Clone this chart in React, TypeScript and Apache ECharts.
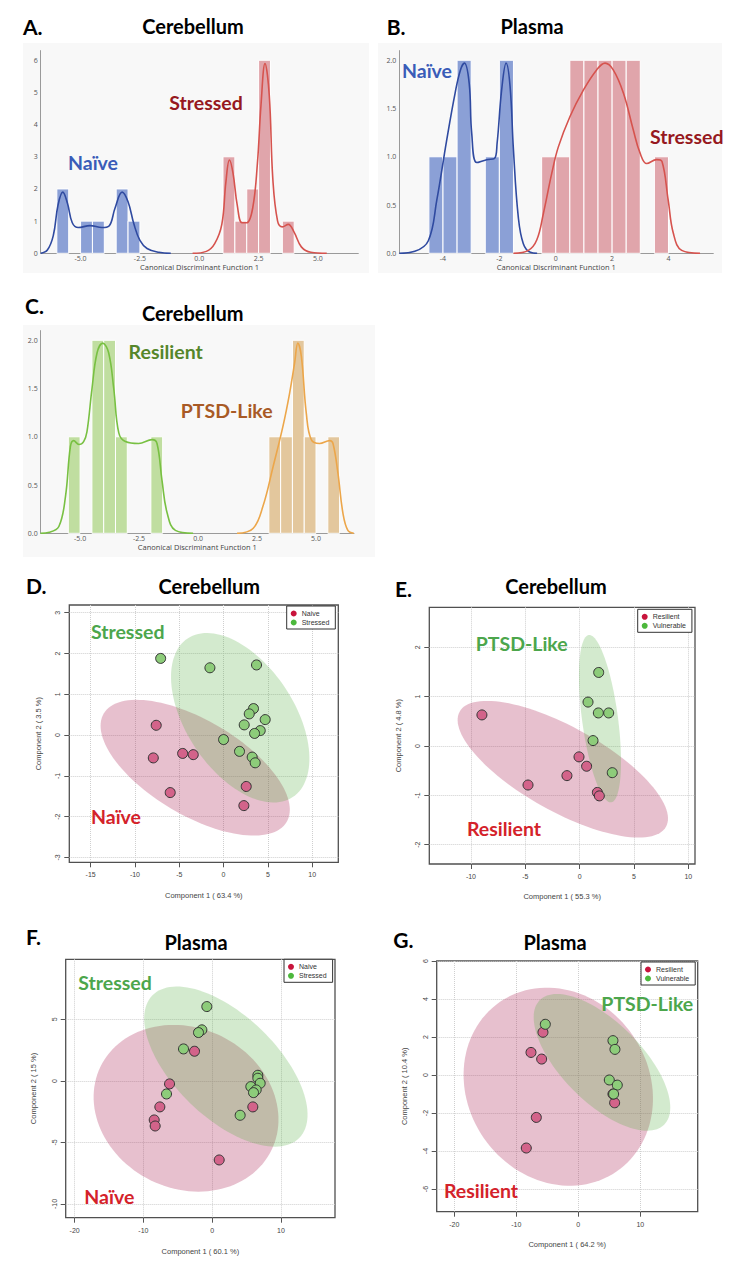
import React, { useEffect, useRef } from "react";
import * as echarts from "echarts";

// ---------- Panel A (Cerebellum, Naive vs Stressed, LDA histogram) ----------
const aNaiveBins = [[-6.0, -5.5, 2], [-5.0, -4.5, 1], [-4.5, -4.0, 1], [-3.5, -3.0, 2], [-3.0, -2.5, 1]];
const aStressedBins = [[1.0, 1.5, 3], [1.5, 2.0, 1], [2.0, 2.5, 2], [2.5, 3.0, 6], [3.5, 4.0, 1]];
const aNaiveKde = [[-6.68, 0], [-6.4, 0.1], [-6.15, 0.55], [-5.95, 1.5], [-5.75, 1.9], [-5.55, 1.55], [-5.35, 0.95], [-5.1, 0.8], [-4.6, 0.86], [-4.1, 0.8], [-3.8, 0.85], [-3.55, 1.4], [-3.25, 1.9], [-3.0, 1.6], [-2.75, 0.9], [-2.5, 0.4], [-2.2, 0.15], [-1.7, 0.03], [-1.2, 0]];
const aStressedKde = [[-0.28, 0], [0.3, 0.06], [0.65, 0.3], [0.95, 0.9], [1.12, 2.2], [1.27, 2.9], [1.42, 2.5], [1.6, 1.5], [1.8, 0.95], [2.0, 0.95], [2.25, 1.4], [2.45, 2.8], [2.6, 4.6], [2.77, 5.9], [2.95, 4.9], [3.1, 2.3], [3.3, 1.0], [3.5, 0.82], [3.75, 0.9], [4.0, 0.65], [4.3, 0.2], [4.7, 0.03], [5.37, 0]];
const aXTicks = [-5, -2.5, 0, 2.5, 5];
const aYTicks = [0, 1, 2, 3, 4, 5, 6];

// ---------- Panel B (Plasma) ----------
const bNaiveBins = [[-4.5, -4.0, 1], [-4.0, -3.5, 1], [-3.5, -3.0, 2], [-2.5, -2.0, 1], [-2.0, -1.5, 2]];
const bStressedBins = [[-0.5, 0, 1], [0, 0.5, 1], [0.5, 1.0, 2], [1.0, 1.5, 2], [1.5, 2.0, 2], [2.0, 2.5, 2], [2.5, 3.0, 2], [3.5, 4.0, 1]];
const bNaiveKde = [[-5.55, 0], [-5.0, 0.02], [-4.52, 0.13], [-4.22, 0.55], [-3.87, 1.17], [-3.57, 1.66], [-3.38, 1.9], [-3.24, 1.97], [-3.07, 1.76], [-2.98, 1.24], [-2.8, 0.94], [-2.45, 0.97], [-2.18, 0.98], [-2.08, 1.14], [-1.92, 1.69], [-1.76, 1.97], [-1.62, 1.73], [-1.5, 1.07], [-1.33, 0.38], [-1.15, 0.1], [-0.9, 0.01], [-0.66, 0]];
const bStressedKde = [[-1.5, 0], [-0.97, 0.03], [-0.67, 0.14], [-0.44, 0.41], [-0.14, 0.83], [0.09, 1.1], [0.51, 1.42], [0.98, 1.69], [1.45, 1.9], [1.75, 1.97], [2.04, 1.9], [2.4, 1.66], [2.75, 1.28], [2.99, 1.04], [3.23, 0.93], [3.58, 0.97], [3.77, 0.95], [3.99, 0.55], [4.17, 0.21], [4.47, 0.03], [5.12, 0]];
const bXTicks = [-4, -2, 0, 2, 4];
const bcYTicks = [0, 0.5, 1.0, 1.5, 2.0];

// ---------- Panel C (Cerebellum, Resilient vs PTSD-Like) ----------
const cResilientBins = [[-5.5, -5.0, 1], [-4.5, -4.0, 2], [-4.0, -3.5, 2], [-3.5, -3.0, 1], [-2.0, -1.5, 1]];
const cPtsdBins = [[3.0, 3.5, 1], [3.5, 4.0, 1], [4.0, 4.5, 2], [4.5, 5.0, 1], [5.5, 6.0, 1]];
const cResilientKde = [[-6.68, 0], [-6.3, 0.01], [-5.9, 0.07], [-5.62, 0.38], [-5.41, 0.9], [-5.27, 0.96], [-5.05, 0.92], [-4.85, 0.95], [-4.71, 1.05], [-4.5, 1.49], [-4.28, 1.87], [-4.04, 1.97], [-3.79, 1.87], [-3.57, 1.49], [-3.36, 1.04], [-3.08, 0.95], [-2.52, 0.93], [-1.95, 0.97], [-1.74, 0.93], [-1.53, 0.55], [-1.31, 0.21], [-0.96, 0.03], [-0.21, 0]];
const cPtsdKde = [[1.65, 0], [2.33, 0.05], [2.75, 0.28], [3.18, 0.69], [3.6, 1.11], [3.88, 1.45], [4.09, 1.76], [4.23, 1.97], [4.38, 1.83], [4.59, 1.24], [4.8, 0.97], [5.15, 0.93], [5.58, 0.96], [5.72, 0.93], [5.93, 0.62], [6.14, 0.21], [6.35, 0.03], [6.6, 0]];
const cXTicks = [-5, -2.5, 0, 2.5, 5];

// ---------- Panel D (PLS-DA Cerebellum, Naive vs Stressed) ----------
const dNaive = [[-7.6, 0.24], [-7.93, -0.56], [-4.62, -0.45], [-3.42, -0.48], [-6.02, -1.41], [2.56, -1.26], [2.29, -1.73]];
const dStressed = [[-7.1, 1.88], [-1.54, 1.65], [3.72, 1.72], [3.38, 0.65], [2.9, 0.52], [4.7, 0.38], [2.33, 0.25], [4.14, 0.11], [3.5, 0.04], [0, -0.11], [1.8, -0.4], [3.23, -0.54], [3.57, -0.68]];
// ellipse: [centerX, centerY, axis1X, axis1Y, axis2X, axis2Y]
const dNaiveEllipse = [[-3.2, -0.8, 10.32, -1.33, 2.74, 1.0]];
const dStressedEllipse = [[1.88, 0.425, 5.93, -1.945, 5.08, 0.731]];
const dXTicks = [-15, -10, -5, 0, 5, 10];
const dYTicks = [-3, -2, -1, 0, 1, 2, 3];

// ---------- Panel E (PLS-DA Cerebellum, Resilient vs Vulnerable) ----------
const eResilient = [[-8.99, 0.63], [-4.75, -0.79], [-1.17, -0.6], [-0.06, -0.22], [0.64, -0.41], [1.63, -0.94], [1.81, -1.01]];
const eVulnerable = [[1.75, 1.49], [0.77, 0.89], [1.72, 0.67], [2.67, 0.67], [1.23, 0.11], [3.0, -0.54]];
const eResilientEllipse = [[-1.55, -0.47, 9.49, -1.166, 1.884, 0.746]];
const eVulnerableEllipse = [[1.87, 0.554, 1.03, -1.695, 1.636, 0.048]];
const eXTicks = [-10, -5, 0, 5, 10];
const eYTicks = [-2, -1, 0, 1, 2];

// ---------- Panel F (PLS-DA Plasma, Naive vs Stressed) ----------
const fNaive = [[-6.2, -0.24], [-7.61, -2.11], [-8.43, -3.17], [-8.29, -3.66], [-2.57, 2.41], [5.91, -2.11], [1.02, -6.42]];
const fStressed = [[-0.78, 6.04], [-1.5, 4.15], [-1.99, 3.93], [-4.17, 2.6], [-6.64, -1.06], [6.64, 0.46], [6.64, 0.22], [6.98, -0.19], [5.62, -0.46], [6.4, -0.73], [6.01, -0.95], [4.07, -2.79]];
const fNaiveEllipse = [[-3.8, -2.22, 12.43, -3.395, 5.11, 5.86]];
const fStressedEllipse = [[1.99, 1.165, 10.7, -5.775, 5.16, 2.99]];
const fXTicks = [-20, -10, 0, 10];
const fYTicks = [-10, -5, 0, 5];

// ---------- Panel G (PLS-DA Plasma, Resilient vs Vulnerable) ----------
const gResilient = [[-5.7, 2.25], [-7.63, 1.19], [-5.91, 0.84], [-6.77, -2.23], [-8.39, -3.84], [5.86, -1.46], [5.59, -1.0]];
const gVulnerable = [[-5.32, 2.67], [5.59, 1.81], [5.91, 1.35], [5.0, -0.26], [6.29, -0.53], [5.7, -1.0]];
const gResilientEllipse = [[-3.23, -0.614, 9.45, -4.451, 12.0, 2.71]];
const gVulnerableEllipse = [[3.82, 0.667, 10.03, -3.276, 4.55, 1.486]];
const gXTicks = [-20, -10, 0, 10];
const gYTicks = [-6, -4, -2, 0, 2, 4, 6];

// ---------- layout / style ----------
const GRIDS = [
  { left: 40.7, top: 50.6, width: 317.6, height: 202.7 },
  { left: 399.3, top: 50.6, width: 314, height: 202.7 },
  { left: 40.7, top: 330.6, width: 313.3, height: 202.7 },
  { left: 69.3, top: 605, width: 269, height: 257.3 },
  { left: 429.3, top: 607.3, width: 265.7, height: 256.7 },
  { left: 65.7, top: 959.3, width: 269.3, height: 258.4 },
  { left: 436.7, top: 961, width: 261, height: 250.7 },
];

const BLUE_BAR = "rgba(120,144,208,0.85)";
const BLUE_LINE = "#2f4aa0";
const RED_BAR = "rgba(220,150,158,0.85)";
const RED_LINE = "#d6534e";
const GREEN_BAR = "rgba(185,218,150,0.9)";
const GREEN_LINE = "#78c042";
const ORANGE_BAR = "rgba(224,193,146,0.9)";
const ORANGE_LINE = "#eca64a";
const PINK_ELL = "rgba(175,48,92,0.3)";
const GREEN_ELL = "rgba(80,170,60,0.25)";
const PT_RED = "#d3638a";
const PT_GREEN = "#8dcc7a";

const barRender = (fill: string) => (params: any, api: any) => {
  const p0 = api.coord([api.value(0), api.value(2)]);
  const p1 = api.coord([api.value(1), 0]);
  return {
    type: "rect",
    shape: { x: p0[0], y: p0[1], width: p1[0] - p0[0], height: p1[1] - p0[1] },
    style: { fill, stroke: "#ffffff", lineWidth: 1 },
  };
};

const ellipseRender = (fill: string) => (params: any, api: any) => {
  const cx = api.value(0), cy = api.value(1);
  const ux = api.value(2), uy = api.value(3), vx = api.value(4), vy = api.value(5);
  const pts: number[][] = [];
  const n = 120;
  for (let i = 0; i < n; i++) {
    const t = (i / n) * Math.PI * 2;
    pts.push(api.coord([cx + Math.cos(t) * ux + Math.sin(t) * vx, cy + Math.cos(t) * uy + Math.sin(t) * vy]));
  }
  return { type: "polygon", shape: { points: pts }, style: { fill } };
};

const SMALL_FONT = "Open Sans";
const R_FONT = "Liberation Sans";
const BIG_FONT = "Lato";

function histX(gi: number, min: number, max: number, ticks: number[], fmt: (v: number) => string) {
  return {
    gridIndex: gi, type: "value", min, max,
    axisLine: { show: true, onZero: false, lineStyle: { color: "#9a9a9a", width: 1 } },
    axisTick: { show: false },
    splitLine: { show: false },
    axisLabel: { customValues: ticks, formatter: fmt, fontSize: 7, color: "#555", margin: 2, fontFamily: SMALL_FONT },
    name: "Canonical Discriminant Function 1", nameLocation: "middle", nameGap: 10,
    nameTextStyle: { fontSize: 7.5, color: "#444", fontFamily: SMALL_FONT },
  };
}
function histY(gi: number, max: number, ticks: number[], fmt: (v: number) => string) {
  return {
    gridIndex: gi, type: "value", min: 0, max,
    axisLine: { show: true, onZero: false, lineStyle: { color: "#9a9a9a", width: 1 } },
    axisTick: { show: false },
    splitLine: { show: false },
    axisLabel: { customValues: ticks, formatter: fmt, fontSize: 7, color: "#555", margin: 3, fontFamily: SMALL_FONT },
  };
}
function pcaX(gi: number, min: number, max: number, ticks: number[], name: string, gap: number) {
  return {
    gridIndex: gi, type: "value", min, max,
    axisLine: { show: false, onZero: false },
    axisTick: { show: true, length: 5, customValues: ticks, lineStyle: { color: "#555" } },
    axisLabel: { customValues: ticks, fontSize: 7, color: "#444", margin: 9, fontFamily: R_FONT },
    splitLine: { show: true, lineStyle: { color: "#cfcfcf", type: "dotted", width: 1 } },
    name, nameLocation: "middle", nameGap: gap,
    nameTextStyle: { fontSize: 7.5, color: "#444", fontFamily: R_FONT },
  };
}
function pcaY(gi: number, min: number, max: number, ticks: number[], name: string, gap: number) {
  return {
    gridIndex: gi, type: "value", min, max,
    axisLine: { show: false, onZero: false },
    axisTick: { show: true, length: 5, customValues: ticks, lineStyle: { color: "#555" } },
    axisLabel: { customValues: ticks, fontSize: 7, color: "#444", margin: 8, rotate: 90, fontFamily: R_FONT },
    splitLine: { show: true, lineStyle: { color: "#cfcfcf", type: "dotted", width: 1 } },
    name, nameLocation: "middle", nameGap: gap,
    nameTextStyle: { fontSize: 7.5, color: "#444", fontFamily: R_FONT },
  };
}

const fmt1 = (v: number) => v.toFixed(1);
const fmt0 = (v: number) => String(v);

function histSeries(gi: number, bins: number[][], kde: number[][], barColor: string, lineColor: string) {
  return [
    { type: "custom", xAxisIndex: gi, yAxisIndex: gi, data: bins, encode: { x: [0, 1], y: 2 }, renderItem: barRender(barColor), z: 2, silent: true },
    { type: "line", xAxisIndex: gi, yAxisIndex: gi, data: kde, smooth: 0.4, showSymbol: false, lineStyle: { color: lineColor, width: 1.6 }, z: 3, silent: true },
  ];
}
function pcaSeries(gi: number, names: string[], ells: number[][][], pts: number[][][]) {
  const cols = [PT_RED, PT_GREEN];
  const ecol = [PINK_ELL, GREEN_ELL];
  const out: any[] = [];
  for (let k = 0; k < 2; k++) {
    out.push({ type: "custom", xAxisIndex: gi, yAxisIndex: gi, data: ells[k], encode: { x: 0, y: 1 }, renderItem: ellipseRender(ecol[k]), z: 1 + k, silent: true });
  }
  for (let k = 0; k < 2; k++) {
    out.push({ type: "scatter", name: names[k], xAxisIndex: gi, yAxisIndex: gi, data: pts[k], symbolSize: 10, itemStyle: { color: cols[k], borderColor: "#333", borderWidth: 1, opacity: 1 }, z: 5 });
  }
  return out;
}

function legendAt(left: number, top: number, names: string[]) {
  const solid = ["#c8143c", "#4cb83c"];
  return {
    orient: "vertical", left, top, selectedMode: false,
    backgroundColor: "#ffffff", borderColor: "#333", borderWidth: 1, borderRadius: 0,
    padding: [4, 6, 3, 4], itemGap: 2, itemWidth: 6, itemHeight: 6,
    textStyle: { fontSize: 7, color: "#333", fontFamily: R_FONT },
    data: names.map((n, i) => ({ name: n, icon: "circle", itemStyle: { color: solid[i], borderWidth: 0 } })),
  };
}

function txt(x: number, y: number, text: string, size: number, fill: string, align = "center") {
  return { type: "text", x, y, z: 100, style: { text, fill, font: `bold ${size}px ${BIG_FONT}`, align, verticalAlign: "middle" } };
}

function buildOption() {
  const NAIVE_BLUE = "#3a5cb8", STRESS_DARK = "#961820";
  const R_GREEN = "#4ca64c", R_RED = "#d4222a";
  const T = 20, L = 19.5;
  return {
    animation: false,
    grid: GRIDS.map((g, i) => ({
      ...g,
      show: i >= 3,
      borderColor: "#505050",
      borderWidth: 1.3,
      backgroundColor: "transparent",
    })),
    xAxis: [
      histX(0, -6.68, 6.7, aXTicks, fmt1),
      histX(1, -5.55, 5.59, bXTicks, fmt0),
      histX(2, -6.67, 6.61, cXTicks, fmt1),
      pcaX(3, -17.41, 12.95, dXTicks, "Component 1 ( 63.4 %)", 29),
      pcaX(4, -13.83, 10.61, eXTicks, "Component 1 ( 55.3 %)", 28),
      pcaX(5, -21.3, 17.86, fXTicks, "Component 1 ( 60.1 %)", 30),
      pcaX(6, -22.84, 19.26, gXTicks, "Component 1 ( 64.2 %)", 28.5),
    ],
    yAxis: [
      histY(0, 6.3, aYTicks, fmt0),
      histY(1, 2.1, bcYTicks, fmt1),
      histY(2, 2.1, bcYTicks, fmt1),
      pcaY(3, -3.12, 3.19, dYTicks, "Component 2 ( 3.5 %)", 27),
      pcaY(4, -2.39, 2.81, eYTicks, "Component 2 ( 4.8 %)", 27),
      pcaY(5, -11.11, 9.88, fYTicks, "Component 2 ( 15 %)", 28),
      pcaY(6, -7.19, 6.0, gYTicks, "Component 2 ( 10.4 %)", 28),
    ],
    legend: [
      legendAt(286.7, 606, ["Naive", "Stressed"]),
      legendAt(637.7, 609.3, ["Resilient", "Vulnerable"]),
      legendAt(284, 959.3, ["Naive", "Stressed"]),
      legendAt(641, 962, ["Resilient", "Vulnerable"]),
    ],
    graphic: [
      { type: "rect", z: -100, shape: { x: 23, y: 43, width: 346, height: 230 }, style: { fill: "#f8f8f8" } },
      { type: "rect", z: -100, shape: { x: 378, y: 43, width: 344, height: 230 }, style: { fill: "#f8f8f8" } },
      { type: "rect", z: -100, shape: { x: 23, y: 325, width: 352, height: 232 }, style: { fill: "#f8f8f8" } },
      txt(23, 26, "A.", 21, "#000", "left"),
      txt(193, 26, "Cerebellum", T, "#000"),
      txt(386.7, 26, "B.", 21, "#000", "left"),
      txt(532, 26, "Plasma", T, "#000"),
      txt(25, 305, "C.", 21, "#000", "left"),
      txt(192.7, 313.3, "Cerebellum", T, "#000"),
      txt(26, 585.7, "D.", 21, "#000", "left"),
      txt(209.3, 585.7, "Cerebellum", T, "#000"),
      txt(395, 588, "E.", 21, "#000", "left"),
      txt(556, 585.7, "Cerebellum", T, "#000"),
      txt(26, 936.7, "F.", 21, "#000", "left"),
      txt(196, 941.7, "Plasma", T, "#000"),
      txt(393.3, 939, "G.", 21, "#000", "left"),
      txt(555, 941.7, "Plasma", T, "#000"),
      txt(93, 162, "Naïve", L, NAIVE_BLUE),
      txt(206, 102, "Stressed", L, STRESS_DARK),
      txt(427, 70.7, "Naïve", L, NAIVE_BLUE),
      txt(686.7, 136, "Stressed", L, STRESS_DARK),
      txt(165.7, 351.7, "Resilient", L, "#55862a"),
      txt(226.7, 410, "PTSD-Like", L, "#a85a26"),
      txt(127.7, 631, "Stressed", L, R_GREEN),
      txt(116, 816.7, "Naïve", L, R_RED),
      txt(521.7, 643.3, "PTSD-Like", L, R_GREEN),
      txt(504, 828.3, "Resilient", L, R_RED),
      txt(115, 982.7, "Stressed", L, R_GREEN),
      txt(109.3, 1196.7, "Naïve", L, R_RED),
      txt(647.3, 1003.3, "PTSD-Like", L, R_GREEN),
      txt(481, 1190, "Resilient", L, R_RED),
    ],
    series: [
      ...histSeries(0, aNaiveBins, aNaiveKde, BLUE_BAR, BLUE_LINE),
      ...histSeries(0, aStressedBins, aStressedKde, RED_BAR, RED_LINE),
      ...histSeries(1, bNaiveBins, bNaiveKde, BLUE_BAR, BLUE_LINE),
      ...histSeries(1, bStressedBins, bStressedKde, RED_BAR, RED_LINE),
      ...histSeries(2, cResilientBins, cResilientKde, GREEN_BAR, GREEN_LINE),
      ...histSeries(2, cPtsdBins, cPtsdKde, ORANGE_BAR, ORANGE_LINE),
      ...pcaSeries(3, ["Naive", "Stressed"], [dNaiveEllipse, dStressedEllipse], [dNaive, dStressed]),
      ...pcaSeries(4, ["Resilient", "Vulnerable"], [eResilientEllipse, eVulnerableEllipse], [eResilient, eVulnerable]),
      ...pcaSeries(5, ["Naive", "Stressed"], [fNaiveEllipse, fStressedEllipse], [fNaive, fStressed]),
      ...pcaSeries(6, ["Resilient", "Vulnerable"], [gResilientEllipse, gVulnerableEllipse], [gResilient, gVulnerable]),
    ],
  };
}

export default function App() {
  const ref = useRef<HTMLDivElement>(null);
  useEffect(() => {
    document.body.style.margin = "0";
    const chart = echarts.init(ref.current as HTMLDivElement, null, { renderer: "svg" });
    chart.setOption(buildOption() as any);
    return () => chart.dispose();
  }, []);
  return <div ref={ref} style={{ width: 739, height: 1282 }} />;
}
